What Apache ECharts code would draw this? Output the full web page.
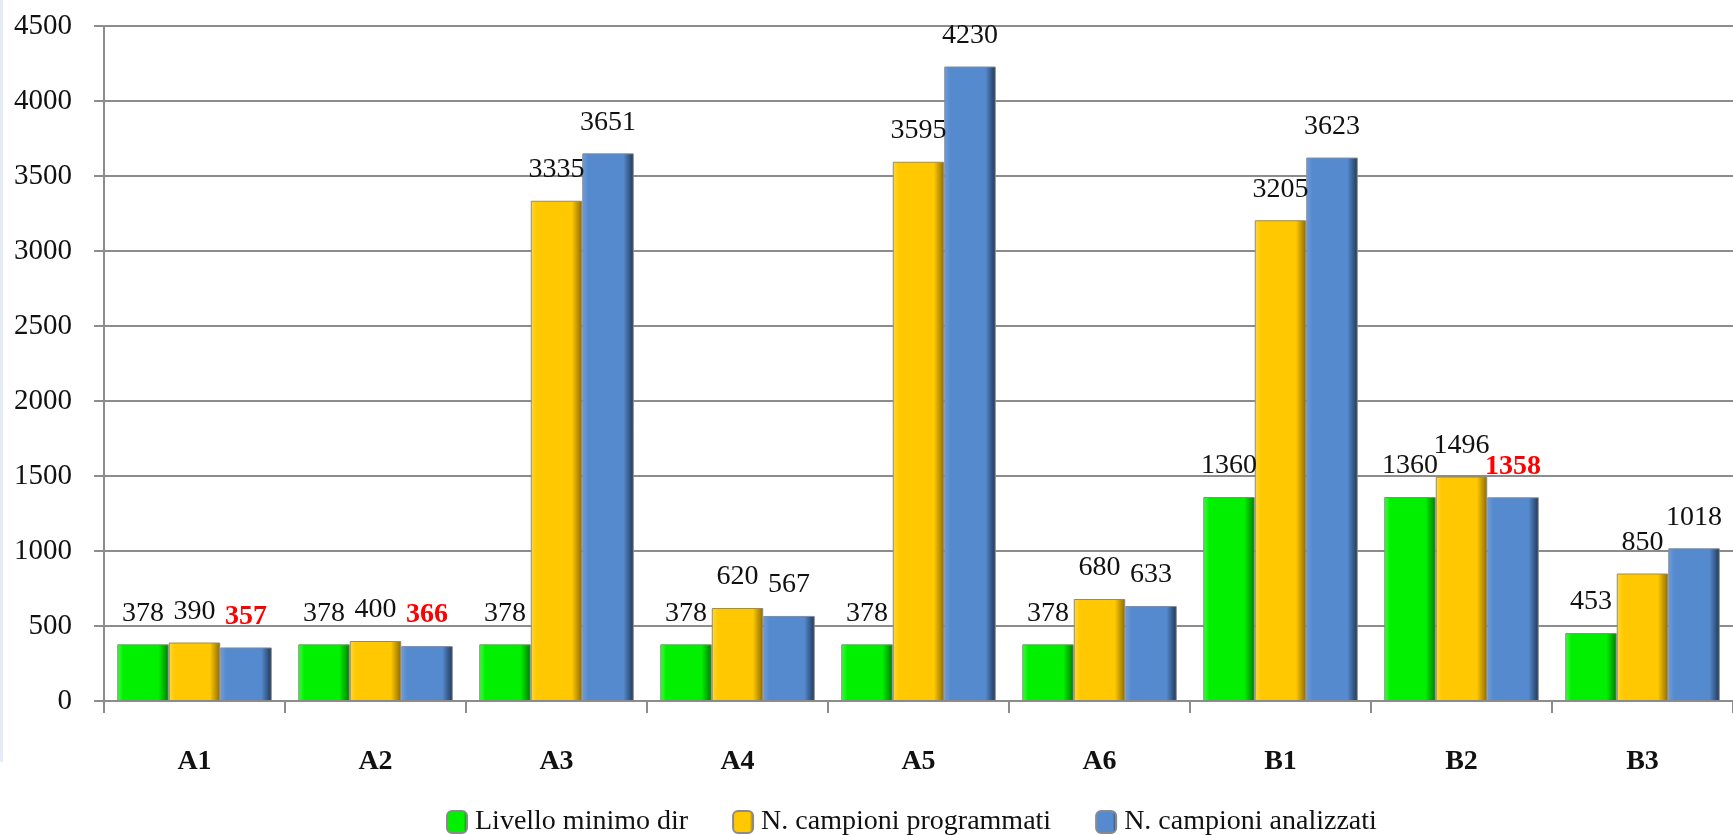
<!DOCTYPE html>
<html>
<head>
<meta charset="utf-8">
<script src="https://cdn.jsdelivr.net/npm/echarts@6/dist/echarts.min.js"></script>
<style>
  html, body { margin: 0; padding: 0; background: #fff; }
  #chart { width: 1733px; height: 835px; }
</style>
</head>
<body>
<div id="chart"></div>
<script>
const categories = ['A1', 'A2', 'A3', 'A4', 'A5', 'A6', 'B1', 'B2', 'B3'];
const livelloMinimo = [378, 378, 378, 378, 378, 378, 1360, 1360, 453];
const campioniProgrammati = [390, 400, 3335, 620, 3595, 680, 3205, 1496, 850];
const campioniAnalizzati = [357, 366, 3651, 567, 4230, 633, 3623, 1358, 1018];
// indici dei valori analizzati evidenziati in rosso
const redIndexes = [0, 1, 7];
const yTicks = { min: 0, max: 4500, interval: 500 };

const FONT = '"Liberation Serif", "Times New Roman", serif';
const gridColor = '#8c8c8c';

const grad = (c1, c2, c3) =>
  new echarts.graphic.LinearGradient(0, 0, 1, 0, [
    { offset: 0, color: c1 },
    { offset: 0.12, color: c2 },
    { offset: 0.8, color: c2 },
    { offset: 1, color: c3 },
  ]);

const labelBase = {
  show: true,
  position: 'top',
  distance: 17,
  fontFamily: FONT,
  fontSize: 28,
  color: '#111',
};

const barSeries = (name, values, color, red) => ({
  name,
  type: 'bar',
  barWidth: 51.5,
  barGap: '0%',
  itemStyle: { color, borderColor: '#8a8a8a', borderWidth: 1 },
  label: labelBase,
  data: values.map((v, i) =>
    red && red.includes(i)
      ? { value: v, label: { color: '#ff0000', fontWeight: 'bold' } }
      : v
  ),
});

const myChart = echarts.init(document.getElementById('chart'));
const option = {
  animation: false,
  backgroundColor: '#fff',
  textStyle: { fontFamily: FONT },
  graphic: [
    { type: 'rect', left: 0, top: 0, shape: { width: 3, height: 762 }, style: { fill: '#e3ecf7' } },
  ],
  grid: { left: 104, top: 26, width: 1640, bottom: 134 },
  legend: {
    left: 446,
    top: 808,
    padding: 0,
    itemWidth: 20,
    itemHeight: 22,
    itemGap: 44,
    textStyle: { fontFamily: FONT, fontSize: 28, color: '#111', padding: [0, 0, 0, 3] },
    data: ['Livello minimo dir', 'N. campioni programmati', 'N. campioni analizzati'],
  },
  xAxis: {
    type: 'category',
    data: categories,
    axisLine: { lineStyle: { color: gridColor, width: 2 } },
    axisTick: { show: true, length: 12, lineStyle: { color: gridColor, width: 2 } },
    axisLabel: { margin: 47, fontFamily: FONT, fontSize: 28, fontWeight: 'bold', color: '#111' },
  },
  yAxis: {
    type: 'value',
    min: yTicks.min,
    max: yTicks.max,
    interval: yTicks.interval,
    axisLine: { show: true, lineStyle: { color: gridColor, width: 2 } },
    axisTick: { show: true, length: 10, lineStyle: { color: gridColor, width: 2 } },
    axisLabel: { margin: 32, fontFamily: FONT, fontSize: 29, color: '#111', formatter: (v) => String(v) },
    splitLine: { lineStyle: { color: gridColor, width: 2 } },
  },
  series: [
    barSeries('Livello minimo dir', livelloMinimo, grad('#3cff3c', '#00f000', '#007a00')),
    barSeries('N. campioni programmati', campioniProgrammati, grad('#ffd83a', '#ffc800', '#8a6a00')),
    barSeries('N. campioni analizzati', campioniAnalizzati, grad('#6c9ede', '#558ace', '#1e3656'), redIndexes),
  ],
};
myChart.setOption(option);
</script>
</body>
</html>
